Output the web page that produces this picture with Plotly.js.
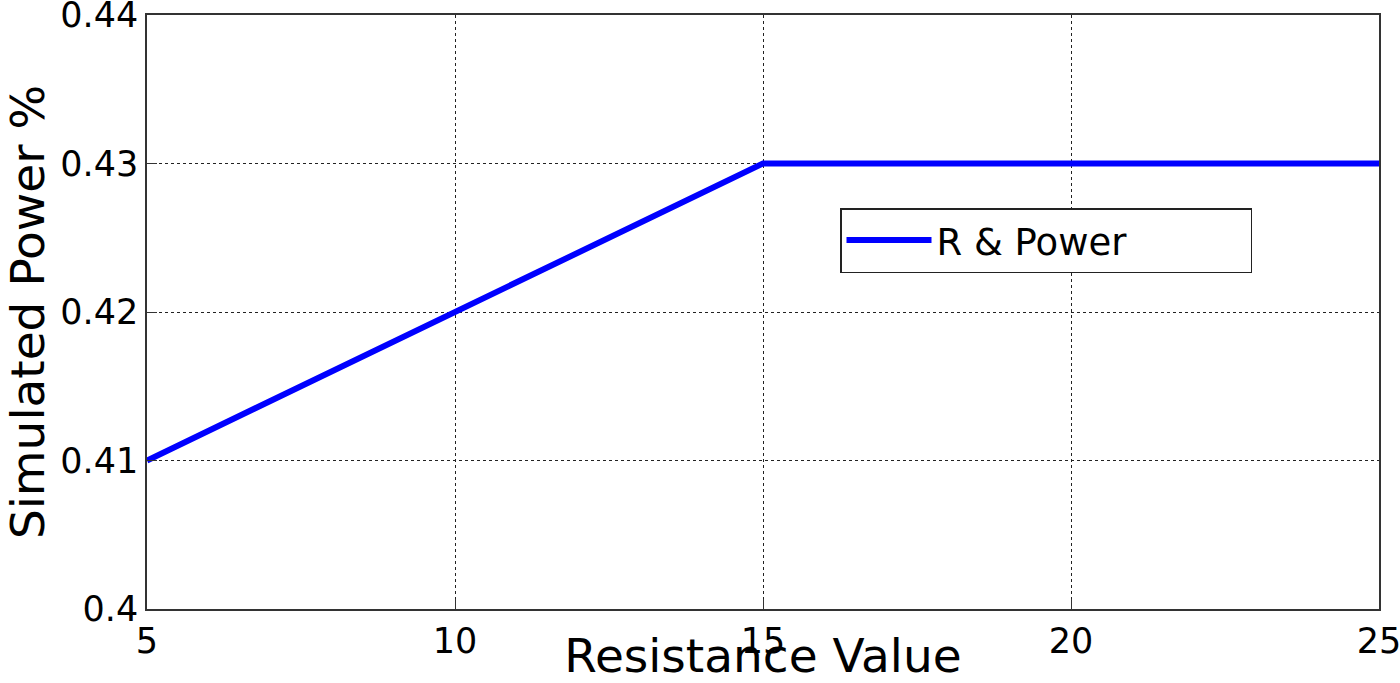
<!DOCTYPE html>
<html>
<head>
<meta charset="utf-8">
<script src="https://cdn.plot.ly/plotly-3.0.1.min.js"></script>
<style>
  html, body { margin: 0; padding: 0; background: #fff; }
  #chart { width: 1400px; height: 683px; }
</style>
</head>
<body>
<div id="chart"></div>
<script>
// Resistance vs simulated power
const resistance = [5, 10, 15, 20, 25];
const power = [0.41, 0.42, 0.43, 0.43, 0.43];
const xTicks = [5, 10, 15, 20, 25];
const yTicks = [0.4, 0.41, 0.42, 0.43, 0.44];
const yTickText = ['0.4', '0.41', '0.42', '0.43', '0.44'];

const font = 'DejaVu Sans, Verdana, sans-serif';

const trace = {
    x: resistance,
    y: power,
    name: 'R & Power',
    type: 'scatter',
    mode: 'lines',
    line: { color: '#0000ff', width: 6 }
};

const axisCommon = {
    showline: true,
    mirror: true,
    linecolor: '#333',
    linewidth: 1.5,
    showgrid: true,
    gridcolor: '#222',
    griddash: 'dot',
    gridwidth: 1,
    zeroline: false,
    ticks: 'inside',
    ticklen: 10,
    tickcolor: '#333',
    ticklabeloverflow: 'allow',
    tickfont: { family: font, size: 35, color: '#000' }
};

const layout = {
    width: 1400,
    height: 683,
    paper_bgcolor: '#fff',
    plot_bgcolor: '#fff',
    margin: { l: 147, r: 21, t: 15, b: 74 },
    showlegend: true,
    xaxis: Object.assign({}, axisCommon, {
        range: [5, 25],
        tickvals: xTicks,
        ticklabelstandoff: 0,
        title: { text: 'Resistance Value', font: { family: font, size: 47, color: '#000' }, standoff: 20 }
    }),
    yaxis: Object.assign({}, axisCommon, {
        range: [0.4, 0.44],
        tickvals: yTicks,
        ticktext: yTickText,
        title: { text: 'Simulated Power %', font: { family: font, size: 47, color: '#000' }, standoff: 2 }
    }),
    legend: {
        orientation: 'h',
        x: 0.5625,
        y: 0.675,
        xanchor: 'left',
        yanchor: 'top',
        bgcolor: '#fff',
        bordercolor: '#222',
        borderwidth: 1.5,
        itemwidth: 85,
        entrywidth: 309,
        entrywidthmode: 'pixels',
        font: { family: font, size: 37, color: '#000' }
    }
};

Plotly.newPlot('chart', [trace], layout, { displayModeBar: false });
</script>
</body>
</html>
